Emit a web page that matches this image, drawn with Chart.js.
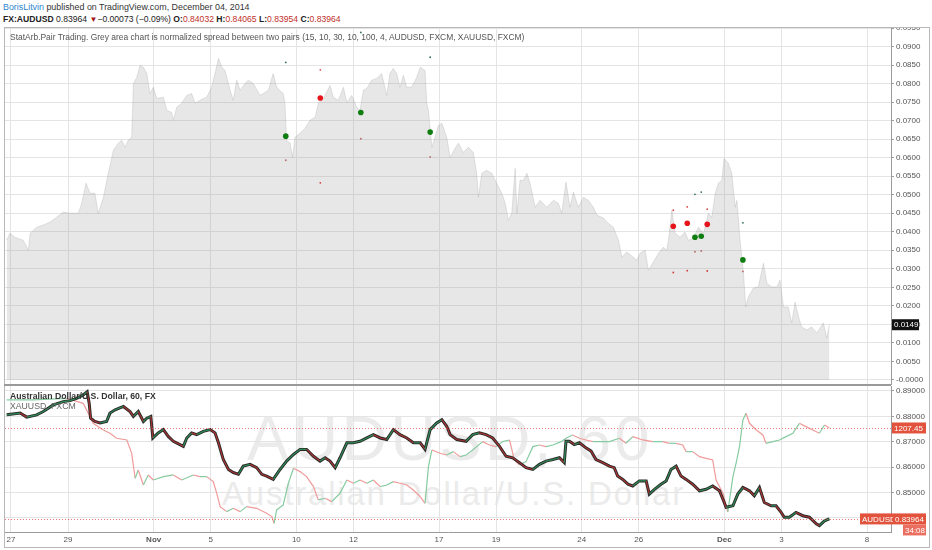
<!DOCTYPE html>
<html>
<head>
<meta charset="utf-8">
<script src="https://cdn.jsdelivr.net/npm/chart.js@4.4.1/dist/chart.umd.min.js"></script>
<style>
  body { margin: 0; background: #fff; font-family: "Liberation Sans", Arial, sans-serif; }
  .abs { position: absolute; white-space: nowrap; }
  #h1 { left: 3px; top: 2px; font-size: 8.9px; color: #333; }
  #h1 .user { color: #2a86cf; }
  #h2 { left: 3px; top: 14px; font-size: 8.6px; color: #222; }
  #h2 .r { color: #c0302a; }
  #h2 .dn { color: #a01818; font-size: 8px; }
  #frame { left: 4px; top: 27px; width: 924px; height: 519px; border: 1px solid #b8b8b8; }
  #sep { left: 4px; top: 384px; width: 887px; height: 2px; background: #9a9a9a; }
  #topCanvas { position: absolute; left: 0; top: 27px; }
  #botCanvas { position: absolute; left: 0; top: 385px; }
  #studyLegend { left: 10px; top: 32px; font-size: 8.45px; color: #555; }
  #audLegend { left: 10px; top: 391px; font-size: 8.7px; color: #333; font-weight: bold; }
  #goldLegend { left: 10px; top: 401px; font-size: 8.7px; color: #666; }
  #wm1 { left: 247px; top: 407px; font-size: 63px; line-height: 1; letter-spacing: 3.5px; color: #ebebeb; }
  #wm2 { left: 222px; top: 477px; font-size: 33px; line-height: 1; letter-spacing: 1.8px; color: #ebebeb; }
</style>
</head>
<body>
<div id="h1" class="abs"><span class="user">BorisLitvin</span> published on TradingView.com, December 04, 2014</div>
<div id="h2" class="abs"><b>FX:AUDUSD</b> 0.83964 <span class="dn">▼</span>−0.00073 (−0.09%) <b>O:</b><span class="r">0.84032</span> <b>H:</b><span class="r">0.84065</span> <b>L:</b><span class="r">0.83954</span> <b>C:</b><span class="r">0.83964</span></div>
<div id="wm1" class="abs">AUDUSD, 60</div>
<div id="wm2" class="abs">Australian Dollar/U.S. Dollar</div>
<canvas id="topCanvas" width="932" height="358"></canvas>
<canvas id="botCanvas" width="932" height="162"></canvas>
<div id="frame" class="abs"></div>
<div id="sep" class="abs"></div>
<div id="studyLegend" class="abs">StatArb.Pair Trading. Grey area chart is normalized spread between two pairs (15, 10, 30, 10, 100, 4, AUDUSD, FXCM, XAUUSD, FXCM)</div>
<div id="audLegend" class="abs">Australian Dollar/U.S. Dollar, 60, FX</div>
<div id="goldLegend" class="abs">XAUUSD, FXCM</div>

<script>
// Time axis: trading days counted from Mon Oct 27, 2014
const dayTicks = [0, 2, 5, 7, 10, 12, 15, 17, 20, 22, 25, 27, 30];
const dayLabels = ["27", "29", "Nov", "5", "10", "12", "17", "19", "24", "26", "Dec", "3", "8"];

// Normalized spread (grey area)
const spreadDays = [
  -0.15, -0.04, 0.14, 0.43, 0.61, 0.67, 0.90, 1.13, 1.37, 1.60, 1.83, 2.07, 2.36, 2.48, 2.63, 2.77, 2.94, 3.06,
  3.24, 3.41, 3.59, 3.76, 3.88, 4.00, 4.11, 4.23, 4.29, 4.41, 4.52, 4.64, 4.76, 4.87, 4.99, 5.11, 5.34, 5.46,
  5.63, 5.69, 5.81, 5.98, 6.16, 6.33, 6.45, 6.62, 6.86, 7.03, 7.15, 7.27, 7.39, 7.50, 7.68, 7.79, 7.91, 8.03,
  8.20, 8.32, 8.49, 8.73, 8.84, 9.02, 9.19, 9.31, 9.54, 9.60, 9.66, 9.78, 9.87, 9.95, 10.13, 10.30, 10.48,
  10.66, 10.77, 10.95, 11.18, 11.30, 11.47, 11.65, 11.77, 11.94, 12.12, 12.23, 12.35, 12.47, 12.64, 12.82,
  12.99, 13.17, 13.28, 13.40, 13.52, 13.63, 13.75, 13.87, 14.04, 14.22, 14.34, 14.51, 14.57, 14.63, 14.75,
  14.86, 14.98, 15.10, 15.27, 15.39, 15.56, 15.68, 15.85, 16.03, 16.20, 16.32, 16.38, 16.50, 16.67, 16.85,
  17.02, 17.20, 17.32, 17.43, 17.55, 17.67, 17.73, 17.84, 17.96, 18.08, 18.19, 18.37, 18.54, 18.78, 19.01,
  19.18, 19.30, 19.45, 19.59, 19.71, 19.88, 20.06, 20.23, 20.41, 20.53, 20.76,
  20.88, 21.11, 21.29, 21.41, 21.58, 21.81, 21.93, 22.05, 22.22, 22.34, 22.51, 22.69, 22.86, 22.98, 23.04,
  23.16, 23.27, 23.45, 23.62, 23.74, 23.92, 24.09, 24.27, 24.44, 24.56, 24.68, 24.79, 24.91, 24.99, 25.14,
  25.26, 25.38, 25.44, 25.55, 25.67, 25.75, 25.84, 26.02, 26.19, 26.37, 26.49, 26.66, 26.84, 26.95, 27.07,
  27.24, 27.36, 27.48, 27.60, 27.71, 27.89, 28.06, 28.24, 28.47, 28.59, 28.68
];
const spreadValues = [
  0.0377, 0.0396, 0.0385, 0.0377, 0.0350, 0.0396, 0.0412, 0.0418, 0.0426, 0.0439, 0.0453, 0.0450, 0.0450, 0.0477, 0.0531, 0.0504, 0.0504, 0.0450,
  0.0493, 0.0558, 0.0620, 0.0639, 0.0647, 0.0628, 0.0647, 0.0655, 0.0800, 0.0817, 0.0849, 0.0844, 0.0827, 0.0773, 0.0790, 0.0760, 0.0763, 0.0728,
  0.0722, 0.0701, 0.0736, 0.0747, 0.0768, 0.0773, 0.0747, 0.0755, 0.0763, 0.0790, 0.0827, 0.0868, 0.0844, 0.0835, 0.0782, 0.0755, 0.0809, 0.0782,
  0.0800, 0.0809, 0.0800, 0.0768, 0.0773, 0.0782, 0.0827, 0.0790, 0.0773, 0.0747, 0.0647, 0.0639, 0.0601, 0.0655, 0.0666, 0.0679, 0.0701,
  0.0709, 0.0747, 0.0760, 0.0795, 0.0763, 0.0755, 0.0790, 0.0749, 0.0768, 0.0736, 0.0728, 0.0782, 0.0787, 0.0809, 0.0814,
  0.0827, 0.0768, 0.0827, 0.0841, 0.0827, 0.0790, 0.0822, 0.0790, 0.0790, 0.0817, 0.0844, 0.0835, 0.0747, 0.0728, 0.0628,
  0.0655, 0.0687, 0.0693, 0.0655, 0.0601, 0.0625, 0.0639, 0.0614, 0.0628, 0.0614, 0.0558, 0.0493, 0.0558, 0.0566, 0.0558,
  0.0531, 0.0504, 0.0477, 0.0431, 0.0450, 0.0571, 0.0450, 0.0539, 0.0539, 0.0558, 0.0531, 0.0466, 0.0485, 0.0466, 0.0485,
  0.0477, 0.0450, 0.0534, 0.0466, 0.0507, 0.0466, 0.0493, 0.0485, 0.0466, 0.0445, 0.0437,
  0.0426, 0.0412, 0.0377, 0.0331, 0.0345, 0.0331, 0.0323, 0.0342, 0.0350, 0.0296, 0.0318, 0.0342, 0.0358, 0.0350, 0.0377,
  0.0458, 0.0396, 0.0385, 0.0399, 0.0377, 0.0383, 0.0412, 0.0396, 0.0450, 0.0439, 0.0504, 0.0531, 0.0539, 0.0598, 0.0585,
  0.0558, 0.0466, 0.0485, 0.0377, 0.0288, 0.0197, 0.0224, 0.0248, 0.0251, 0.0315, 0.0261, 0.0251, 0.0251, 0.0270, 0.0197,
  0.0197, 0.0154, 0.0210, 0.0170, 0.0143, 0.0135, 0.0143, 0.0127, 0.0154, 0.0113, 0.0149
];
const spreadTicks = [0, 0.005, 0.01, 0.015, 0.02, 0.025, 0.03, 0.035, 0.04, 0.045, 0.05, 0.055, 0.06, 0.065, 0.07, 0.075, 0.08, 0.085, 0.09, 0.095];

// Entry signals with their band markers
const signalDays = [9.63, 10.84, 12.26, 14.69, 23.21, 23.70, 23.97, 24.19, 24.40, 25.65];
const signalValues = [0.0658, 0.0761, 0.0722, 0.0669, 0.0415, 0.0423, 0.0385, 0.0388, 0.0420, 0.0324];
const signalSides = ["buy", "sell", "buy", "buy", "sell", "sell", "buy", "buy", "sell", "buy"];
const bandUpper = [0.0857, 0.0837, 0.0938, 0.0871, 0.0458, 0.0467, 0.0501, 0.0507, 0.0461, 0.0424];
const bandLower = [0.0593, 0.0532, 0.0651, 0.0602, 0.0290, 0.0295, 0.0346, 0.0348, 0.0294, 0.0293];

// AUDUSD hourly closes (sampled)
const audDays = [
  -0.15, 0.32, 0.55, 0.90, 1.13, 1.48, 1.83, 2.07, 2.30, 2.53, 2.67, 2.74, 2.79, 2.94, 3.12, 3.35, 3.47, 3.65,
  3.94, 4.17, 4.29, 4.46, 4.64, 4.76, 4.90, 4.97, 5.16, 5.34, 5.51, 5.69, 5.92, 6.04, 6.16, 6.33, 6.51, 6.74,
  6.98, 7.15, 7.27, 7.44, 7.62, 7.79, 7.97, 8.14, 8.38, 8.61, 8.79, 8.96, 9.19, 9.43, 9.66, 9.90, 10.13, 10.36,
  10.60, 10.83, 11.01, 11.18, 11.36, 11.53, 11.77, 12.00, 12.23, 12.47, 12.70, 12.94, 13.17, 13.40, 13.63, 13.87,
  14.10, 14.34, 14.51, 14.69, 14.92, 15.10, 15.27, 15.39, 15.62, 15.95,
  16.18, 16.41, 16.65, 16.88, 17.12, 17.35, 17.58, 17.82, 18.05, 18.29, 18.52, 18.75, 18.99, 19.22, 19.39, 19.45,
  19.57, 19.74, 19.92, 20.15, 20.33, 20.50, 20.74, 20.97, 21.14, 21.26, 21.44, 21.62, 21.79, 22.02, 22.26, 22.37,
  22.55, 22.78, 22.96, 23.13, 23.31, 23.48, 23.66, 23.89, 24.13, 24.36, 24.59, 24.83, 24.95, 25.06, 25.30, 25.47,
  25.65, 25.88, 26.05, 26.23, 26.40, 26.64, 26.81, 26.99, 27.10, 27.28, 27.51, 27.75, 27.98, 28.22, 28.33, 28.51, 28.68
];
const audClose = [
  0.8806, 0.8813, 0.8797, 0.8806, 0.8819, 0.8845, 0.8858, 0.8862, 0.8871, 0.8884, 0.8897, 0.8852, 0.8793, 0.8780, 0.8774, 0.8780, 0.8813, 0.8826,
  0.8839, 0.8819, 0.8800, 0.8819, 0.8780, 0.8793, 0.8800, 0.8715, 0.8735, 0.8748, 0.8721, 0.8702, 0.8689, 0.8682, 0.8715, 0.8735, 0.8728, 0.8741,
  0.8748, 0.8735, 0.8696, 0.8630, 0.8591, 0.8579, 0.8572, 0.8604, 0.8611, 0.8598, 0.8572, 0.8565, 0.8552, 0.8591, 0.8624, 0.8650, 0.8670, 0.8670,
  0.8643, 0.8624, 0.8637, 0.8624, 0.8598, 0.8637, 0.8696, 0.8696, 0.8702, 0.8715, 0.8728, 0.8715, 0.8709, 0.8748, 0.8728, 0.8715,
  0.8696, 0.8696, 0.8670, 0.8748, 0.8774, 0.8787, 0.8761, 0.8728, 0.8709, 0.8702,
  0.8728, 0.8735, 0.8728, 0.8715, 0.8682, 0.8643, 0.8637, 0.8618, 0.8598, 0.8591, 0.8611, 0.8624, 0.8630, 0.8637, 0.8618, 0.8702,
  0.8702, 0.8689, 0.8696, 0.8676, 0.8663, 0.8630, 0.8618, 0.8604, 0.8598, 0.8565, 0.8552, 0.8533, 0.8526, 0.8546, 0.8546, 0.8494,
  0.8513, 0.8533, 0.8546, 0.8591, 0.8604, 0.8565, 0.8552, 0.8533, 0.8507, 0.8513, 0.8526, 0.8507, 0.8474, 0.8442, 0.8448, 0.8494,
  0.8520, 0.8507, 0.8487, 0.8520, 0.8461, 0.8448, 0.8448, 0.8422, 0.8403, 0.8403, 0.8422, 0.8409, 0.8403, 0.8377, 0.8370, 0.8389, 0.83964
];
const audTicks = [0.84, 0.85, 0.86, 0.87, 0.88, 0.89];

// XAUUSD hourly closes (sampled)
const goldDays = [
  -0.15, 0.78, 1.95, 2.53, 2.77, 2.88, 3.24, 3.47, 3.70, 4.06, 4.23, 4.35, 4.46, 4.64, 4.81, 4.99, 5.34, 5.69,
  5.98, 6.39, 6.62, 6.86, 7.09, 7.21, 7.33, 7.56, 7.79, 8.03, 8.26, 8.61, 8.96, 9.14, 9.22, 9.31, 9.54, 9.72,
  9.90, 10.13, 10.36, 10.60, 10.77, 11.01, 11.24, 11.53, 11.77, 12.00, 12.23, 12.47, 12.70, 12.94, 13.17, 13.40,
  13.63, 13.87, 14.10, 14.34, 14.51, 14.63, 14.75, 15.04, 15.27, 15.50, 15.74, 15.95,
  16.18, 16.53, 16.77, 17.00, 17.23, 17.47, 17.64, 17.82, 18.05, 18.29, 18.52, 18.75, 18.99, 19.28, 19.45, 19.68,
  19.92, 20.15, 20.39, 20.62, 20.97, 21.32, 21.55, 21.79, 22.14, 22.49, 22.84, 23.07, 23.31, 23.54, 23.66, 23.89,
  24.13, 24.36, 24.59, 24.71, 24.95, 25.12, 25.30, 25.41, 25.53, 25.65, 25.76, 25.88, 26.12, 26.35, 26.46, 26.70,
  26.93, 27.16, 27.40, 27.63, 27.86, 28.10, 28.33, 28.51, 28.68
];
const goldClose = [
  1229.3, 1229.3, 1230.6, 1226.7, 1216.3, 1211.1, 1205.9, 1203.3, 1199.4, 1198.1, 1187.7, 1168.2, 1174.7, 1163.0, 1170.8, 1166.9, 1169.5, 1170.8,
  1166.9, 1170.8, 1169.5, 1169.5, 1165.6, 1156.5, 1146.1, 1142.2, 1144.8, 1142.2, 1146.1, 1144.8, 1140.9, 1138.3, 1133.1, 1143.5, 1147.4, 1164.3,
  1176.0, 1173.4, 1169.5, 1161.7, 1151.3, 1152.6, 1150.0, 1156.5, 1166.9, 1164.3, 1166.9, 1164.3, 1166.9, 1161.7, 1163.0, 1165.6,
  1164.3, 1163.0, 1159.1, 1153.9, 1148.7, 1177.3, 1190.3, 1187.7, 1186.4, 1189.0, 1185.1, 1186.4,
  1190.3, 1196.8, 1194.2, 1192.9, 1196.8, 1198.1, 1182.5, 1178.6, 1181.2, 1192.9, 1194.2, 1192.9, 1194.2, 1196.8, 1199.4, 1202.0,
  1199.4, 1198.1, 1196.8, 1196.8, 1196.8, 1199.4, 1195.5, 1200.7, 1198.1, 1196.8, 1196.8, 1195.5, 1195.5, 1194.2, 1189.0, 1189.0,
  1185.1, 1183.8, 1182.5, 1166.9, 1156.5, 1141.9, 1169.5, 1179.9, 1192.9, 1213.7, 1218.9, 1211.1, 1205.9, 1202.0, 1195.5, 1196.8,
  1198.1, 1200.7, 1203.3, 1211.1, 1208.5, 1205.9, 1203.3, 1209.8, 1207.45
];

const toPoints = (xs, ys) => xs.map((x, i) => ({ x: x, y: ys[i] }));
const upDown = (up, down) => ctx => ctx.p1.parsed.y >= ctx.p0.parsed.y ? up : down;

// price scale: fixed width, no extra room for the end labels
function fixScale(s) {
  s.width = 41;
  s.paddingTop = 0;
  s.paddingBottom = 0;
}
const axisFont = { family: "Liberation Sans", size: 8 };

function timeScale(showLabels) {
  return {
    type: "linear",
    min: -0.21,
    max: 30.84,
    afterBuildTicks: s => { s.ticks = dayTicks.map(v => ({ value: v })); },
    afterFit: s => { s.height = showLabels ? 15 : 0; },
    grid: { color: "#e4e4e4", drawTicks: false },
    border: { display: showLabels, color: "#9a9a9a" },
    ticks: {
      display: showLabels,
      autoSkip: false,
      maxRotation: 0,
      padding: 3,
      color: "#555",
      font: ctx => ({ family: "Liberation Sans", size: 8, weight: (dayLabels[ctx.index] === "Nov" || dayLabels[ctx.index] === "Dec") ? "bold" : "normal" }),
      callback: v => dayLabels[dayTicks.indexOf(v)]
    }
  };
}

function priceBadge(ctx, y, text, bg, x0, x1) {
  ctx.fillStyle = bg;
  ctx.fillRect(x0, y - 5.5, x1 - x0, 11);
  ctx.fillStyle = "#fff";
  ctx.font = "8px 'Liberation Sans'";
  ctx.textBaseline = "middle";
  ctx.textAlign = "left";
  ctx.fillText(text, x0 + 2, y + 0.5);
}

// Top pane: spread and signals
new Chart(document.getElementById("topCanvas"), {
  type: "line",
  data: {
    datasets: [
      {
        type: "scatter",
        data: toPoints(signalDays, signalValues),
        pointRadius: 2.8,
        pointBorderWidth: 0,
        pointBackgroundColor: signalSides.map(s => s === "buy" ? "#0f7d10" : "#e8141c"),
        order: 0
      },
      {
        type: "scatter",
        data: toPoints(signalDays, bandUpper),
        pointRadius: 0.9,
        pointBorderWidth: 0,
        pointBackgroundColor: signalSides.map(s => s === "buy" ? "#2f6f5c" : "#e24a4a"),
        order: 1
      },
      {
        type: "scatter",
        data: toPoints(signalDays, bandLower),
        pointRadius: 0.9,
        pointBorderWidth: 0,
        pointBackgroundColor: signalSides.map(s => s === "buy" ? "#b86a6a" : "#d83a3a"),
        order: 2
      },
      {
        data: toPoints(spreadDays, spreadValues),
        fill: "origin",
        backgroundColor: "rgba(150,150,150,0.23)",
        borderColor: "rgba(150,150,150,0.25)",
        borderWidth: 1,
        pointRadius: 0,
        tension: 0,
        order: 3
      }
    ]
  },
  options: {
    responsive: false,
    animation: false,
    layout: { autoPadding: false, padding: { left: 5, right: 0, top: 1, bottom: 1 } },
    plugins: { legend: { display: false }, tooltip: { enabled: false } },
    scales: {
      x: timeScale(false),
      y: {
        position: "right",
        min: -0.0011,
        max: 0.0950,
        afterBuildTicks: s => { s.ticks = spreadTicks.map(v => ({ value: v })); },
        afterFit: fixScale,
        grid: { color: "#e4e4e4", tickLength: 3, tickColor: "#9a9a9a" },
        border: { color: "#9a9a9a" },
        ticks: {
          color: "#555",
          padding: 2,
          font: axisFont,
          callback: v => v === 0 ? "-0.0000" : v.toFixed(4)
        }
      }
    }
  },
  plugins: [{
    id: "lastSpread",
    afterDraw(chart) {
      const y = chart.scales.y.getPixelForValue(spreadValues[spreadValues.length - 1]);
      priceBadge(chart.ctx, y, "0.0149", "#111", chart.chartArea.right + 1, chart.chartArea.right + 28);
    }
  }]
});

// Bottom pane: AUDUSD and XAUUSD
new Chart(document.getElementById("botCanvas"), {
  type: "line",
  data: {
    datasets: [
      {
        data: toPoints(audDays, audClose),
        yAxisID: "y",
        borderWidth: 1.2,
        borderColor: "#a83232",
        segment: { borderColor: upDown("#2f8a55", "#a83232") },
        pointRadius: 0,
        tension: 0,
        order: 0
      },
      {
        data: toPoints(audDays, audClose),
        yAxisID: "y",
        borderWidth: 3,
        borderColor: "#2a2a2a",
        pointRadius: 0,
        tension: 0,
        order: 1
      },
      {
        data: toPoints(goldDays, goldClose),
        yAxisID: "g",
        borderWidth: 1.2,
        borderColor: "#f09a9a",
        segment: { borderColor: upDown("#86cba0", "#f09a9a") },
        pointRadius: 0,
        tension: 0,
        order: 2
      }
    ]
  },
  options: {
    responsive: false,
    animation: false,
    layout: { autoPadding: false, padding: { left: 5, right: 0, top: 1, bottom: 0 } },
    plugins: { legend: { display: false }, tooltip: { enabled: false } },
    scales: {
      x: timeScale(true),
      y: {
        position: "right",
        min: 0.83449,
        max: 0.89195,
        afterBuildTicks: s => { s.ticks = audTicks.map(v => ({ value: v })); },
        afterFit: fixScale,
        grid: { color: "#e4e4e4", tickLength: 3, tickColor: "#9a9a9a" },
        border: { color: "#9a9a9a" },
        ticks: {
          color: "#555",
          padding: 2,
          font: axisFont,
          callback: v => v.toFixed(5)
        }
      },
      g: { display: false, min: 1126.3, max: 1240.2 }
    }
  },
  plugins: [{
    id: "lastPrices",
    afterDatasetsDraw(chart) {
      const ctx = chart.ctx, area = chart.chartArea;
      const lines = [
        chart.scales.g.getPixelForValue(goldClose[goldClose.length - 1]),
        chart.scales.y.getPixelForValue(audClose[audClose.length - 1])
      ];
      ctx.save();
      ctx.strokeStyle = "rgba(228,80,70,0.75)";
      ctx.lineWidth = 1;
      ctx.setLineDash([1, 2]);
      lines.forEach(y => {
        ctx.beginPath();
        ctx.moveTo(area.left, Math.round(y) + 0.5);
        ctx.lineTo(area.right, Math.round(y) + 0.5);
        ctx.stroke();
      });
      ctx.restore();
    },
    afterDraw(chart) {
      const ctx = chart.ctx, r = chart.chartArea.right;
      const gy = chart.scales.g.getPixelForValue(goldClose[goldClose.length - 1]);
      const ay = chart.scales.y.getPixelForValue(audClose[audClose.length - 1]);
      priceBadge(ctx, gy, "1207.45", "#e2533d", r + 1, r + 35);
      priceBadge(ctx, ay, "AUDUSD", "#e2533d", r - 31, r + 2);
      priceBadge(ctx, ay, "0.83964", "#e2533d", r + 2, r + 35);
      priceBadge(ctx, ay + 11, "34:08", "#ea6f60", r + 12, r + 35);
    }
  }]
});
</script>
</body>
</html>
